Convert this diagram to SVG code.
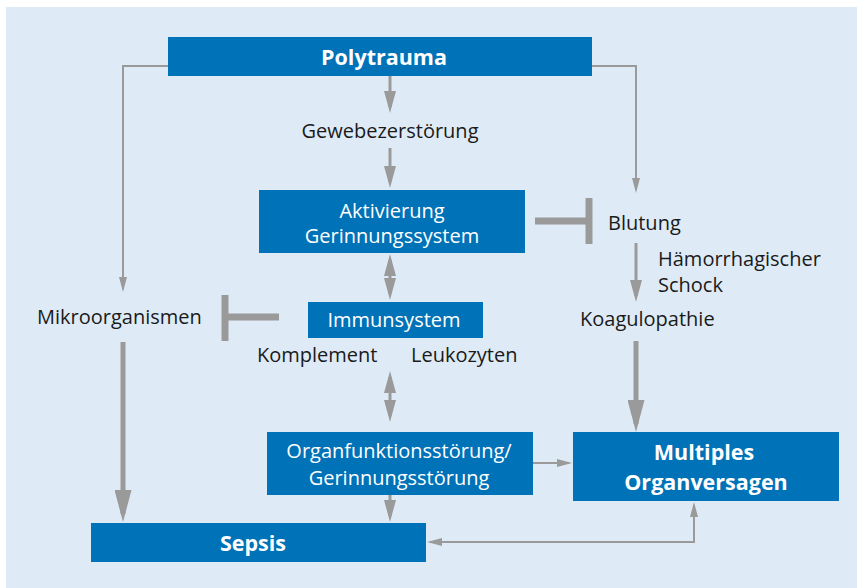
<svg xmlns="http://www.w3.org/2000/svg" width="857" height="588" viewBox="0 0 857 588">
<defs>
<style>
.box{fill:#0072b7}
.bt{font-family:"Open Sans","Noto Sans",sans-serif;font-size:20px;fill:#fff;text-anchor:middle}
.bb{font-family:"Open Sans","Noto Sans",sans-serif;font-size:21.5px;font-weight:bold;fill:#fff;text-anchor:middle}
.t{font-family:"Open Sans","Noto Sans",sans-serif;font-size:20px;fill:#1a1a1a}
.c{fill:none;stroke:#9a9a9a}
.thin{stroke-width:2}
.med{stroke-width:3}
.thick{stroke-width:5}
.tee{stroke-width:7}
</style>
<marker id="aS" markerUnits="userSpaceOnUse" markerWidth="15" markerHeight="8" refX="12" refY="4" orient="auto-start-reverse"><path d="M0,0 L15,4 L0,8 Z" fill="#9a9a9a"/></marker>
<marker id="aM" markerUnits="userSpaceOnUse" markerWidth="22" markerHeight="12" refX="16" refY="6" orient="auto-start-reverse"><path d="M0,0 L22,6 L0,12 Z" fill="#9a9a9a"/></marker>
<marker id="aL" markerUnits="userSpaceOnUse" markerWidth="32" markerHeight="17" refX="24" refY="8.5" orient="auto-start-reverse"><path d="M0,0 L32,8.5 L0,17 Z" fill="#9a9a9a"/></marker>
</defs>
<rect x="6" y="7" width="851" height="581" fill="#deebf7"/>
<g id="connectors">
<polyline class="c thin" points="168,66 123,66 123,289" marker-end="url(#aS)"/>
<polyline class="c thin" points="592,66 636,66 636,190" marker-end="url(#aS)"/>
<line class="c med" x1="390" y1="76" x2="390" y2="107" marker-end="url(#aM)"/>
<line class="c med" x1="390" y1="148" x2="390" y2="182" marker-end="url(#aM)"/>
<line class="c med" x1="390" y1="260" x2="390" y2="294" marker-start="url(#aM)" marker-end="url(#aM)"/>
<line class="c med" x1="390" y1="377" x2="390" y2="416" marker-start="url(#aM)" marker-end="url(#aM)"/>
<line class="c med" x1="390" y1="495" x2="390" y2="516" marker-end="url(#aM)"/>
<line class="c med" x1="636" y1="243" x2="636" y2="296" marker-end="url(#aM)"/>
<line class="c thick" x1="123" y1="342" x2="123" y2="514" marker-end="url(#aL)"/>
<line class="c thick" x1="636" y1="341" x2="636" y2="424" marker-end="url(#aL)"/>
<line class="c thin" x1="533" y1="463" x2="569" y2="463" marker-end="url(#aS)"/>
<polyline class="c thin" points="430,542 694,542 694,505" marker-start="url(#aS)" marker-end="url(#aS)"/>
<line class="c tee" x1="279" y1="317" x2="225" y2="317"/>
<line class="c tee" x1="225" y1="295" x2="225" y2="341"/>
<line class="c tee" x1="535" y1="221" x2="589" y2="221"/>
<line class="c tee" x1="589" y1="198" x2="589" y2="244"/>
</g>
<g id="polytrauma"><rect class="box" x="168" y="37" width="424" height="39"/><text class="bb" x="384" y="65">Polytrauma</text></g>
<g id="gewebe"><text class="t" x="390" y="138" text-anchor="middle">Gewebezerstörung</text></g>
<g id="aktivierung"><rect class="box" x="259" y="190" width="266" height="63"/><text class="bt" x="392" y="218">Aktivierung</text><text class="bt" x="392" y="243">Gerinnungssystem</text></g>
<g id="blutung"><text class="t" x="608" y="230">Blutung</text></g>
<g id="schock"><text class="t" x="658" y="266">Hämorrhagischer</text><text class="t" x="658" y="292">Schock</text></g>
<g id="koagulopathie"><text class="t" x="580" y="326">Koagulopathie</text></g>
<g id="mikro"><text class="t" x="37" y="324">Mikroorganismen</text></g>
<g id="immunsystem"><rect class="box" x="308" y="302" width="175" height="36"/><text class="bt" x="394" y="327">Immunsystem</text></g>
<g id="komplement"><text class="t" x="257" y="362">Komplement</text></g>
<g id="leukozyten"><text class="t" x="411" y="362">Leukozyten</text></g>
<g id="organ"><rect class="box" x="267" y="432" width="266" height="63"/><text class="bt" x="399" y="458">Organfunktionsstörung/</text><text class="bt" x="399" y="485">Gerinnungsstörung</text></g>
<g id="mov"><rect class="box" x="573" y="432" width="266" height="69"/><text class="bb" x="704" y="460">Multiples</text><text class="bb" x="706" y="490">Organversagen</text></g>
<g id="sepsis"><rect class="box" x="91" y="523" width="335" height="39"/><text class="bb" x="253" y="551">Sepsis</text></g>
</svg>
